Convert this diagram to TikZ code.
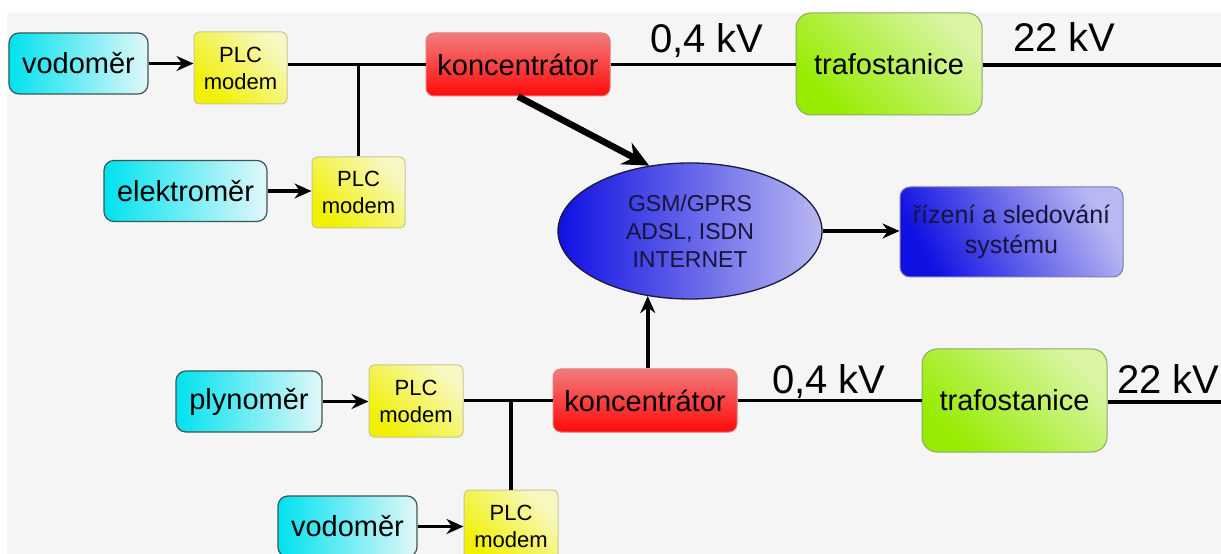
\documentclass[tikz,border=0pt]{standalone}
\usepackage{fontspec}
\setmainfont{Liberation Sans}
\usetikzlibrary{arrows.meta,shapes.geometric}
\definecolor{bgc}{HTML}{F5F5F5}
\definecolor{cyanA}{HTML}{00E2EE}
\definecolor{cyanB}{HTML}{E2F7F9}
\definecolor{cyanD}{HTML}{3A5858}
\definecolor{yelA}{HTML}{F0F000}
\definecolor{yelB}{HTML}{F8F8C4}
\definecolor{yelD}{HTML}{C8C890}
\definecolor{redA}{HTML}{F27C7C}
\definecolor{redB}{HTML}{FF0A0A}
\definecolor{redD}{HTML}{E07A7A}
\definecolor{grnA}{HTML}{96EC00}
\definecolor{grnB}{HTML}{D9F5A4}
\definecolor{grnD}{HTML}{90A868}
\definecolor{bluA}{HTML}{1010E2}
\definecolor{bluB}{HTML}{B8B8F2}
\definecolor{bluD}{HTML}{1A1A3A}
\definecolor{bluE}{HTML}{7A7AB8}
\definecolor{navy}{HTML}{14143C}
\tikzset{
  meter/.style={draw=cyanD, line width=1.2bp, rounded corners=10bp,
    left color=cyanA, right color=cyanB, inner sep=0pt,
    minimum height=61bp, font=\fontsize{29bp}{34bp}\selectfont},
  plcbox/.style={draw=yelD, line width=1bp, rounded corners=5bp,
    top color=yelB, bottom color=yelA, shading angle=-45, inner sep=0pt,
    minimum width=93bp, minimum height=72bp, align=center,
    font=\fontsize{22bp}{27bp}\selectfont},
  konbox/.style={draw=redD, line width=1bp, rounded corners=8bp,
    top color=redA, bottom color=redB, inner sep=0pt,
    minimum width=184bp, minimum height=63bp,
    font=\fontsize{29bp}{34bp}\selectfont},
  trbox/.style={draw=grnD, line width=1bp, rounded corners=15bp,
    top color=grnB, bottom color=grnA, shading angle=-45, inner sep=0pt,
    minimum width=186bp, minimum height=102bp,
    font=\fontsize{29bp}{34bp}\selectfont},
  netell/.style={ellipse, draw=bluD, line width=1.3bp,
    left color=bluA, right color=bluB, inner sep=0pt,
    minimum width=264bp, minimum height=136bp, align=center, text=navy,
    font=\fontsize{23bp}{28bp}\selectfont},
  ctrlbox/.style={draw=bluE, line width=1bp, rounded corners=10bp,
    top color=bluB, bottom color=bluA, shading angle=-60, inner sep=0pt,
    minimum width=223bp, minimum height=90bp, align=center, text=navy,
    font=\fontsize{25bp}{30bp}\selectfont},
  kvlabel/.style={inner sep=0pt, anchor=base west,
    font=\fontsize{40bp}{46bp}\selectfont},
  wire/.style={line width=3.6bp},
  arr/.style={line width=3.6bp, -{Stealth[length=17bp,width=15bp]}},
  bigarr/.style={line width=6.5bp, -{Stealth[length=26bp,width=24bp]}}
}
\begin{document}
\begin{tikzpicture}[x=1bp,y=-1bp]
\useasboundingbox (0,0) rectangle (1221,554);
\clip (0,0) rectangle (1221,554);
\fill[white] (0,0) rectangle (1221,554);
\fill[bgc] (7,13) rectangle (1221,554);

% top group
\node[meter, minimum width=139bp] (vod1) at (78.5,63.5) {vodoměr};
\node[plcbox] (plc1) at (240.5,68) {PLC\\modem};
\node[meter, minimum width=163bp] (ele) at (185.5,191) {elektroměr};
\node[plcbox, minimum height=71bp] (plc2) at (358.5,192.5) {PLC\\modem};
\node[konbox] (kon1) at (518,64.5) {koncentrátor};
\node[trbox] (tr1) at (889,64) {trafostanice};
\coordinate (e1) at (1221,65);

% centre
\node[netell] (net) at (690,231) {GSM/GPRS\\ADSL, ISDN\\INTERNET};
\node[ctrlbox] (ctrl) at (1011.5,232) {řízení a sledování\\systému};

% bottom group
\node[meter, minimum width=146bp] (ply) at (249,401.5) {plynoměr};
\node[plcbox, minimum width=94bp] (plc3) at (416,401) {PLC\\modem};
\node[meter, minimum width=139bp] (vod2) at (347.5,526.5) {vodoměr};
\node[plcbox, minimum width=94bp] (plc4) at (511,526) {PLC\\modem};
\node[konbox] (kon2) at (645,400.5) {koncentrátor};
\node[trbox, minimum width=185bp, minimum height=103bp] (tr2) at (1014.5,400.5) {trafostanice};
\coordinate (e2) at (1221,402);

% labels
\node[kvlabel] (l1) at (650,53) {0,4 kV};
\node[kvlabel] (l2) at (1013,52) {22 kV};
\node[kvlabel] (l3) at (772,393) {0,4 kV};
\node[kvlabel] (l4) at (1117,393) {22 kV};

% top connectors
\draw[arr] (vod1.east) -- (vod1.east -| plc1.west);
\draw[wire] (kon1.west -| plc1.east) -- (kon1.west);
\draw[wire] (plc2.north) -- (plc2.north |- kon1.west);
\draw[arr] (ele.east) -- (ele.east -| plc2.west);
\draw[wire] (kon1.east) -- (kon1.east -| tr1.west);
\draw[wire] (tr1.east |- e1) -- (e1);

% centre connectors
\draw[bigarr] (kon1.south) -- (net.122);
\draw[arr] (kon2.north -| net.237) -- (net.237);
\draw[arr] (net.east) -- (net.east -| ctrl.west);

% bottom connectors
\draw[arr] (ply.east) -- (ply.east -| plc3.west);
\draw[wire] (kon2.west -| plc3.east) -- (kon2.west);
\draw[wire] (plc4.north) -- (plc4.north |- kon2.west);
\draw[arr] (vod2.east) -- (vod2.east -| plc4.west);
\draw[wire] (kon2.east) -- (kon2.east -| tr2.west);
\draw[wire] (tr2.east |- e2) -- (e2);
\end{tikzpicture}
\end{document}
